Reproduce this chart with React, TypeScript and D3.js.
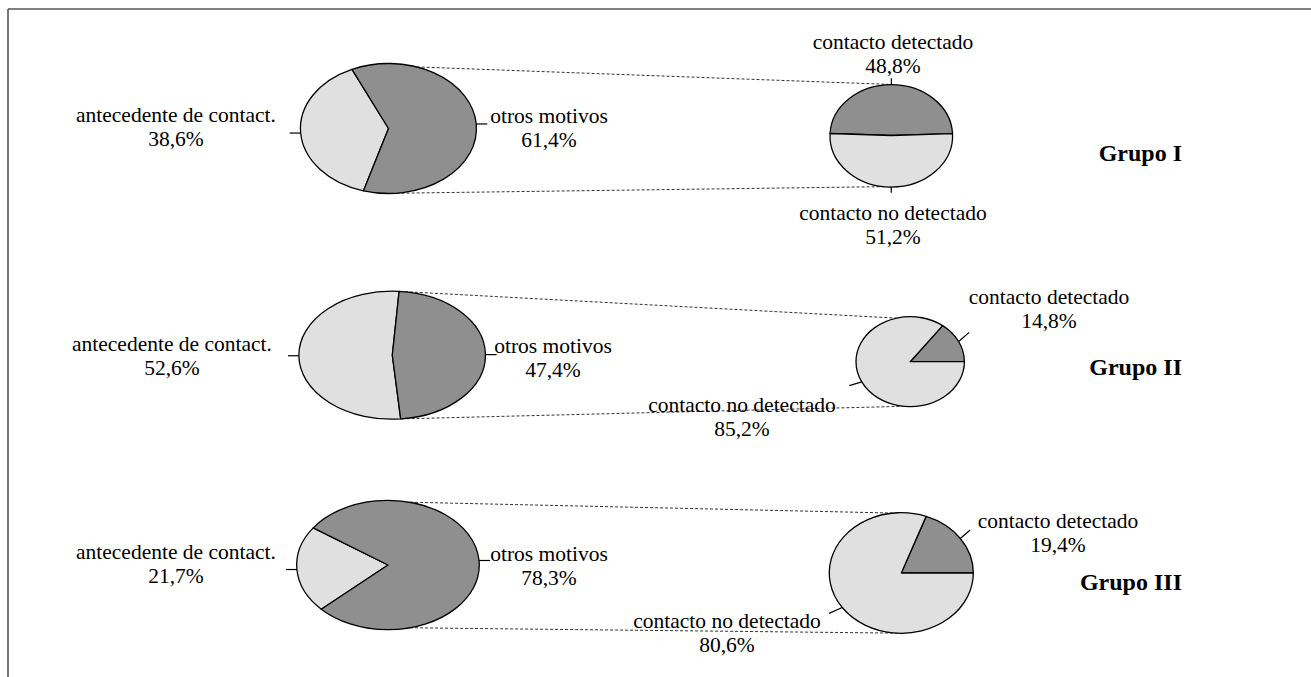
import React from 'react';
import * as d3 from 'd3';

// Data
const groups = ['Grupo I', 'Grupo II', 'Grupo III'];
const motivoLabels = ['antecedente de contact.', 'otros motivos'];
const motivoValues = [
  [38.6, 61.4],
  [52.6, 47.4],
  [21.7, 78.3],
];
const contactoLabels = ['contacto detectado', 'contacto no detectado'];
const contactoValues = [
  [48.8, 51.2],
  [14.8, 85.2],
  [19.4, 80.6],
];

const LIGHT = '#e0e0e0';
const DARK = '#8f8f8f';
const FONT = '"Liberation Serif", "Times New Roman", serif';
const LINE = 23.5;

// Layout per group (angles in math degrees, counter-clockwise from +x)
const layout = [
  {
    big: { cx: 388.5, cy: 128.5, rx: 88, ry: 65, mid: 184 },
    small: { cx: 891.3, cy: 135.5, rx: 61.3, ry: 51.2, start: 2.1 },
    conn: [[71.3, 92.8], [275.3, 266.2]],
    bigLabels: [[176, 122], [549, 123]],
    smallLabels: [[893, 49], [893, 220]],
    leaders: [{ dir: 90, len: 6 }, { dir: 270, len: 6 }],
    title: [1182, 161],
  },
  {
    big: { cx: 392.3, cy: 355.2, rx: 93.3, ry: 64, mid: 180.5 },
    small: { cx: 910.2, cy: 361.7, rx: 54.2, ry: 45, start: 0 },
    conn: [[85.3, 104.5], [275.7, 262.5]],
    bigLabels: [[172, 351], [553, 353]],
    smallLabels: [[1049, 304], [742, 412]],
    leaders: [{ dir: 41, len: 14 }, { dir: 197, len: 13 }],
    title: [1182, 375],
  },
  {
    big: { cx: 388, cy: 565, rx: 91.3, ry: 64.7, mid: 184 },
    small: { cx: 901.3, cy: 573, rx: 72, ry: 60.3, start: 0 },
    conn: [[76, 96.4], [284, 273]],
    bigLabels: [[176, 559], [549, 561]],
    smallLabels: [[1058, 528], [727, 628]],
    leaders: [{ dir: 41, len: 13 }, { dir: 204, len: 14.5 }],
    title: [1182, 590],
  },
];

const rad = (d: number) => (d * Math.PI) / 180;
const pt = (p: { cx: number; cy: number; rx: number; ry: number }, deg: number): [number, number] => [
  p.cx + p.rx * Math.cos(rad(deg)),
  p.cy - p.ry * Math.sin(rad(deg)),
];
const fmt = (v: number) => d3.format('.1f')(v).replace('.', ',') + '%';
const arc = d3.arc<d3.PieArcDatum<number>>().innerRadius(0).outerRadius(1);
const midDeg = (a: d3.PieArcDatum<number>) => 90 - ((a.startAngle + a.endAngle) / 2) * 180 / Math.PI;

const Label: React.FC<{ x: number; y: number; lines: string[] }> = ({ x, y, lines }) => (
  <text x={x} y={y} textAnchor="middle" fontFamily={FONT} fontSize={21.5} fill="#000">
    {lines.map((l, i) => (
      <tspan key={i} x={x} dy={i === 0 ? 0 : LINE}>{l}</tspan>
    ))}
  </text>
);

const App: React.FC = () => {
  return (
    <svg width={1311} height={677} style={{ position: 'absolute', left: 0, top: 0, background: '#fff' }}>
      {/* frame */}
      <line x1={8} y1={9} x2={1311} y2={9} stroke="#555" strokeWidth={1.6} />
      <line x1={8} y1={9} x2={8} y2={677} stroke="#555" strokeWidth={1.6} />

      {groups.map((g, gi) => {
        const L = layout[gi];
        const mv = motivoValues[gi];
        const cv = contactoValues[gi];
        const f = mv[0] / d3.sum(mv);
        const bigStart = rad(90 - L.big.mid - f * 180);
        const bigArcs = d3.pie<number>().sort(null).value(d => d)
          .startAngle(bigStart).endAngle(bigStart + 2 * Math.PI)(mv);
        const s = cv[0] / d3.sum(cv);
        const smallStart = rad(90 - L.small.start - s * 360);
        const smallArcs = d3.pie<number>().sort(null).value(d => d)
          .startAngle(smallStart).endAngle(smallStart + 2 * Math.PI)(cv);

        return (
          <g key={g}>
            {/* connectors */}
            {L.conn.map(([a, b], i) => {
              const p1 = pt(L.big, a);
              const p2 = pt(L.small, b);
              return (
                <line key={i} x1={p1[0]} y1={p1[1]} x2={p2[0]} y2={p2[1]}
                  stroke="#333" strokeWidth={1} strokeDasharray="3,2" />
              );
            })}

            {/* big pie */}
            <g transform={`translate(${L.big.cx},${L.big.cy}) scale(${L.big.rx},${L.big.ry})`}>
              {bigArcs.map((a, i) => (
                <path key={i} d={arc(a) || ''} fill={i === 0 ? LIGHT : DARK}
                  stroke="#000" strokeWidth={1.3} vectorEffect="non-scaling-stroke" strokeLinejoin="round" />
              ))}
            </g>
            {bigArcs.map((a, i) => {
              const m = midDeg(a);
              const p = pt(L.big, m);
              const dir = Math.cos(rad(m)) < 0 ? -1 : 1;
              return <line key={i} x1={p[0]} y1={p[1]} x2={p[0] + dir * 11} y2={p[1]} stroke="#000" strokeWidth={1.2} />;
            })}

            {/* small pie */}
            <g transform={`translate(${L.small.cx},${L.small.cy}) scale(${L.small.rx},${L.small.ry})`}>
              {smallArcs.map((a, i) => (
                <path key={i} d={arc(a) || ''} fill={i === 0 ? DARK : LIGHT}
                  stroke="#000" strokeWidth={1.3} vectorEffect="non-scaling-stroke" strokeLinejoin="round" />
              ))}
            </g>
            {smallArcs.map((a, i) => {
              const p = pt(L.small, midDeg(a));
              const ld = L.leaders[i];
              return (
                <line key={i} x1={p[0]} y1={p[1]}
                  x2={p[0] + ld.len * Math.cos(rad(ld.dir))} y2={p[1] - ld.len * Math.sin(rad(ld.dir))}
                  stroke="#000" strokeWidth={1.2} />
              );
            })}

            {/* labels */}
            {motivoLabels.map((t, i) => (
              <Label key={t} x={L.bigLabels[i][0]} y={L.bigLabels[i][1]} lines={[t, fmt(mv[i])]} />
            ))}
            {contactoLabels.map((t, i) => (
              <Label key={t} x={L.smallLabels[i][0]} y={L.smallLabels[i][1]} lines={[t, fmt(cv[i])]} />
            ))}
            <text x={L.title[0]} y={L.title[1]} textAnchor="end" fontFamily={FONT}
              fontSize={24} fontWeight="bold" fill="#000">{g}</text>
          </g>
        );
      })}
    </svg>
  );
};

export default App;
